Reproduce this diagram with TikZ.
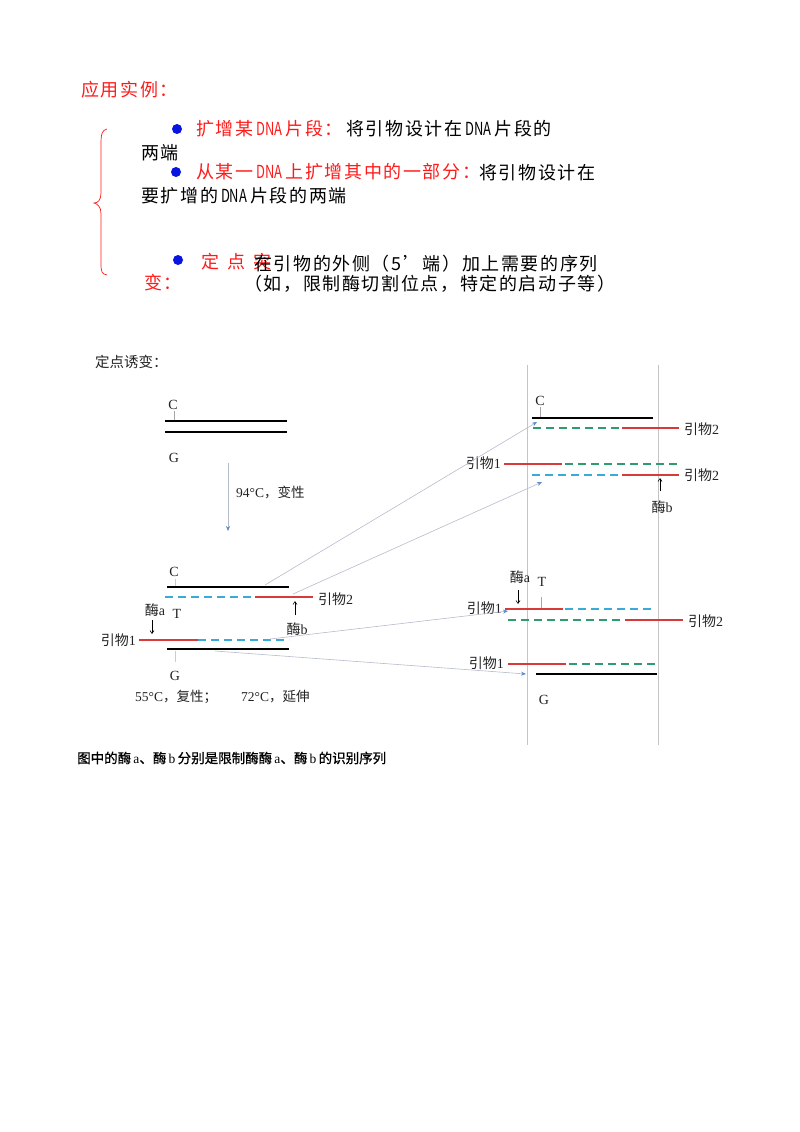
\documentclass[tikz,border=0pt]{standalone}
\usepackage{fontspec}
\setmainfont{Liberation Serif}
\newfontfamily\cjk{Noto Sans CJK SC}
\newfontfamily\cjkls{Noto Sans CJK SC}[LetterSpace=9]
\newfontfamily\cjkdna{Noto Sans CJK SC}[FakeStretch=0.72]
\newfontfamily\cjkcap{Noto Sans CJK SC}[FakeBold=0.8]
\usetikzlibrary{arrows.meta}
\definecolor{tred}{HTML}{FF1A1A}
\definecolor{pred}{HTML}{D63A3A}
\definecolor{cyanD}{HTML}{3AAAD8}
\definecolor{greenD}{HTML}{2E9C70}
\definecolor{connC}{HTML}{B4BCCB}
\definecolor{tipC}{HTML}{5B8BC9}
\definecolor{vlineC}{HTML}{C4C4C4}
\definecolor{bulletC}{HTML}{0A14E0}
\definecolor{lblC}{HTML}{222222}
\newcommand\yinwu{{\cjk 引物}}
\newcommand\mei{{\cjk 酶}}
\newcommand\DNAw{\hspace{3pt}{\cjkdna DNA}\hspace{3pt}}
\tikzset{
  strand/.style={line width=1.8pt, black},
  primer/.style={line width=1.8pt, pred},
  cdash/.style={line width=1.8pt, cyanD, dash pattern=on 8pt off 5pt},
  gdash/.style={line width=1.8pt, greenD, dash pattern=on 8pt off 5pt},
  conn/.style={connC, line width=0.6pt, -{Stealth[length=5pt,width=4pt,color=tipC]}},
  tickline/.style={gray!70, line width=0.6pt},
  enzarrow/.style={black, line width=0.6pt, -{Straight Barb[length=3pt,width=4pt]}},
  lbl/.style={inner sep=0, text=lblC, font=\fontsize{14}{14}\selectfont},
  toptext/.style={inner sep=0, anchor=west, font=\cjkls\fontsize{18}{18}\selectfont},
  redt/.style={toptext, text=tred},
  blkt/.style={toptext, text=black},
  bulletdot/.style={circle, fill=bulletC, inner sep=0, minimum size=10pt},
  vline/.style={vlineC, line width=0.8pt}
}
\begin{document}
\begin{tikzpicture}[x=1pt,y=-1pt]
\useasboundingbox (0,0) rectangle (800,1132);
% ---------- top text ----------
\node[redt] (title) at (81,90) {应用实例：};
\node[bulletdot] (b1) at (177,129) {};
\node[redt] (l1r) at (196,129) {扩增某\DNAw 片段：};
\node[blkt] (l1b) at (346,129) {将引物设计在\DNAw 片段的};
\node[blkt] (l1c) at (141,153) {两端};
\node[bulletdot] (b2) at (176,172) {};
\node[redt] (l2r) at (196,172) {从某一\DNAw 上扩增其中的一部分：};
\node[blkt] (l2b) at (479,173) {将引物设计在};
\node[blkt] (l2c) at (141,196) {要扩增的\DNAw 片段的两端};
\node[bulletdot] (b3) at (178,260) {};
\node[redt, anchor=center] (d1) at (210,262) {定};
\node[redt, anchor=center] (d2) at (236,262) {点};
\node[redt, anchor=center] (d3) at (262,262) {突};
\node[blkt] (l3b) at (254,264) {在引物的外侧（5’端）加上需要的序列};
\node[redt] (l3r) at (144,283) {变：};
\node[blkt] (l3c) at (244,284) {（如，限制酶切割位点，特定的启动子等）};
\draw[tred, line width=0.7pt] (107,129) .. controls (102,130) and (101,134) .. (101,144) -- (101,193)
  .. controls (101,200) and (98,203) .. (94,203) .. controls (98,204) and (101,207) .. (101,214)
  -- (101,264) .. controls (101,272) and (102,274) .. (107,275);
% ---------- lower diagram ----------
\node[inner sep=0, anchor=west, text=lblC, font=\cjk\fontsize{14.5}{14.5}\selectfont] (dd) at (95,362) {定点诱变：};
% left top
\node[lbl] (C1) at (173,405) {C};
\coordinate (C1t) at (174,421);
\draw[tickline] (174,411) -- (C1t);
\draw[strand] (165,421) -- (287,421);
\draw[strand] (165,432) -- (287,432);
\node[lbl] (G1) at (174,458) {G};
\coordinate (a1s) at (228,463);
\coordinate (a1e) at (228,531);
\draw[conn] (a1s) -- (a1e);
\node[lbl, anchor=west, font=\fontsize{13.5}{13.5}\selectfont] (t94) at (236,492) {94°C{\cjk ，变性}};
% left bottom
\node[lbl] (C2) at (174,572) {C};
\draw[tickline, gray!40] (175,579) -- (175,587);
\draw[strand] (167,587) -- (289,587);
\draw[cdash] (165,597) -- (255,597);
\draw[primer] (255,597) -- (313,597);
\node[lbl, anchor=west] (p2a) at (318,599) {\yinwu 2};
\node[lbl] (ma1) at (155,610) {\mei a};
\node[lbl] (T1) at (177,614) {T};
\draw[enzarrow] (152,620) -- (152,634);
\draw[enzarrow] (295,615) -- (295,601);
\node[lbl] (mb1) at (297,629) {\mei b};
\node[lbl, anchor=east] (p1a) at (136,640) {\yinwu 1};
\draw[primer] (139,640) -- (198,640);
\draw[cdash] (198,640) -- (289,640);
\draw[strand] (167,649) -- (289,649);
\draw[tickline, gray!40] (175,651) -- (175,662);
\node[lbl] (G2) at (175,676) {G};
\node[lbl, anchor=west, font=\fontsize{13.5}{13.5}\selectfont] (t55) at (135,697) {55°C{\cjk ，复性；}};
\node[lbl, anchor=west, font=\fontsize{13.5}{13.5}\selectfont] (t72) at (241,697) {72°C{\cjk ，延伸}};
% right vertical lines
\draw[vline] (527,365) -- (527,745);
\draw[vline] (658,365) -- (658,745);
% right top
\node[lbl] (C3) at (540,401) {C};
\draw[tickline] (540,407) -- (540,418);
\draw[strand] (532,418) -- (653,418);
\draw[gdash] (533,428) -- (622,428);
\draw[primer] (622,428) -- (679,428);
\node[lbl, anchor=west] (p2b) at (684,429) {\yinwu 2};
\node[lbl, anchor=east] (p1b) at (501,463) {\yinwu 1};
\draw[primer] (504,464) -- (562,464);
\draw[gdash] (565,464) -- (679,464);
\draw[cdash] (532,475) -- (622,475);
\draw[primer] (622,475) -- (679,475);
\node[lbl, anchor=west] (p2c) at (684,475) {\yinwu 2};
\draw[enzarrow] (660,491) -- (660,478);
\node[lbl] (mb2) at (662,507) {\mei b};
% right bottom
\node[lbl] (ma2) at (520,577) {\mei a};
\node[lbl] (T2) at (542,582) {T};
\draw[enzarrow] (518,590) -- (518,604);
\draw[tickline] (541,597) -- (541,609);
\node[lbl, anchor=east] (p1c) at (502,608) {\yinwu 1};
\draw[primer] (505,609) -- (563,609);
\draw[cdash] (565,609) -- (653,609);
\draw[gdash] (508,620) -- (625,620);
\draw[primer] (625,620) -- (683,620);
\node[lbl, anchor=west] (p2d) at (688,621) {\yinwu 2};
\node[lbl, anchor=east] (p1d) at (504,663) {\yinwu 1};
\draw[primer] (508,664) -- (566,664);
\draw[gdash] (569,664) -- (658,664);
\draw[strand] (536,674) -- (657,674);
\node[lbl] (G4) at (544,700) {G};
% connectors
\coordinate (s1) at (265,585);  \coordinate (e1) at (537,422);
\coordinate (s2) at (293,594);  \coordinate (e2) at (542,482);
\coordinate (s3) at (270,639);  \coordinate (e3) at (508,611);
\coordinate (s4) at (215,651);  \coordinate (e4) at (526,674);
\draw[conn] (s1) -- (e1);
\draw[conn] (s2) -- (e2);
\draw[conn] (s3) -- (e3);
\draw[conn] (s4) -- (e4);
% caption
\node[inner sep=0, anchor=west, font=\cjkcap\fontsize{13.5}{13.5}\selectfont] (cap) at (77,758) {图中的酶\,{\rmfamily a}、酶\,{\rmfamily b}\,分别是限制酶酶\,{\rmfamily a}、酶\,{\rmfamily b}\,的识别序列};
\end{tikzpicture}
\end{document}
